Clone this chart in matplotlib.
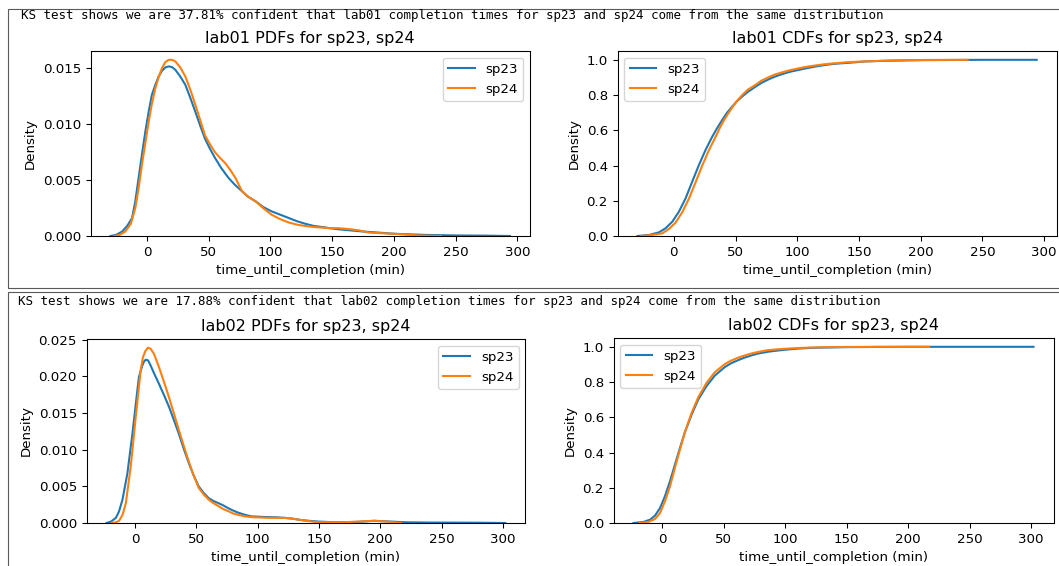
import matplotlib
matplotlib.use("Agg")
import matplotlib.pyplot as plt
from matplotlib.patches import Rectangle

# KDE curves of lab completion times, read per semester
lab01_pdf_x_sp23 = [-29.5, -25, -20, -16, -12, -9.4, -6.7, -4, -1.3, 1.4, 4, 6.8, 9.5, 12.2, 14.9, 17.6, 20.3, 23, 27, 31.1, 35.2, 39.2, 43, 47, 51, 55, 60, 66, 71, 77, 82, 88, 94, 101, 108, 115, 122, 128, 135, 142, 148, 155, 165, 175, 188, 200, 225, 250, 275, 294]
lab01_pdf_y_sp23 = [0.0, 0.0001, 0.0004, 0.0009, 0.0016, 0.0031, 0.0052, 0.0073, 0.0093, 0.0111, 0.0126, 0.0135, 0.01425, 0.01476, 0.01506, 0.01515, 0.01509, 0.01485, 0.01425, 0.01351, 0.01232, 0.0111, 0.0099, 0.0087, 0.0078, 0.0070, 0.0061, 0.0052, 0.0046, 0.0040, 0.0035, 0.0031, 0.0026, 0.0022, 0.0019, 0.0016, 0.0013, 0.0011, 0.0009, 0.0008, 0.0007, 0.0006, 0.0005, 0.0004, 0.0003, 0.0002, 0.0001, 0.00005, 0.00003, 0.0]
lab01_pdf_x_sp24 = [-26.5, -22, -17.5, -13, -9.4, -6.7, -4, -1.3, 1.4, 4, 6.8, 9.5, 12.2, 14.9, 17.6, 20.3, 23, 27, 31.1, 35.2, 39.2, 43, 47, 51, 55, 59, 63.5, 67.5, 71.6, 77, 82, 88, 94, 101, 108, 115, 122, 128, 135, 142, 148, 155, 165, 172, 180, 190, 200, 220, 238]
lab01_pdf_y_sp24 = [0.0, 0.0001, 0.0004, 0.0011, 0.0025, 0.0043, 0.0064, 0.0083, 0.0102, 0.0118, 0.0132, 0.0142, 0.0150, 0.01553, 0.01574, 0.01574, 0.0156, 0.01506, 0.01425, 0.01306, 0.01172, 0.0104, 0.0090, 0.0082, 0.0075, 0.0070, 0.0065, 0.0059, 0.0052, 0.0040, 0.0035, 0.0031, 0.0025, 0.0019, 0.0015, 0.0012, 0.0010, 0.0009, 0.0008, 0.00075, 0.0007, 0.0007, 0.0006, 0.0005, 0.0003, 0.00025, 0.0002, 0.00005, 0.0]

lab01_cdf_x_sp23 = [-29.5, -20, -12, -6.7, -1.3, 4.1, 9.5, 14.9, 20.3, 25.7, 31.1, 35.2, 39.2, 43, 47.3, 51, 55.4, 60, 66.2, 71, 77, 82, 87.8, 94, 101.3, 108, 114.8, 121, 128.4, 135, 141.8, 155.3, 175, 200, 225, 250, 294]
lab01_cdf_y_sp23 = [0.0, 0.006, 0.021, 0.044, 0.081, 0.138, 0.214, 0.309, 0.403, 0.489, 0.564, 0.614, 0.659, 0.699, 0.735, 0.764, 0.792, 0.818, 0.848, 0.869, 0.89, 0.905, 0.919, 0.932, 0.943, 0.953, 0.962, 0.969, 0.976, 0.98, 0.983, 0.991, 0.995, 0.998, 0.999, 1.0, 1.0]
lab01_cdf_x_sp24 = [-26.5, -17.5, -9.4, -4, 1.4, 6.8, 12.2, 17.6, 23, 28.4, 33.8, 37, 40.5, 44, 47.3, 51, 55.4, 60, 66.2, 71, 77, 82, 87.8, 94, 101.3, 108, 114.8, 121, 128.4, 135, 141.8, 155.3, 175, 200, 238]
lab01_cdf_y_sp24 = [0.0, 0.006, 0.015, 0.04, 0.076, 0.135, 0.212, 0.305, 0.4, 0.487, 0.563, 0.61, 0.656, 0.695, 0.73, 0.766, 0.8, 0.831, 0.858, 0.882, 0.902, 0.917, 0.929, 0.941, 0.952, 0.961, 0.968, 0.974, 0.979, 0.983, 0.987, 0.991, 0.996, 0.999, 1.0]

lab02_pdf_x_sp23 = [-23.3, -19.5, -15.6, -13, -10.2, -6.2, -2.1, 1.9, 3.2, 6, 7.3, 8.7, 10.6, 12.7, 15.4, 19.5, 23.5, 27.6, 31.6, 35.7, 39.8, 43.8, 47.8, 51.9, 56, 60, 64, 68.1, 72, 76.2, 80, 84.3, 90, 95, 102, 108.6, 115, 122, 128, 135.6, 142, 149, 160, 170, 182, 195, 208, 220, 240, 260, 280, 302]
lab02_pdf_y_sp23 = [0.0, 0.0002, 0.0007, 0.0016, 0.0032, 0.0068, 0.0122, 0.0181, 0.01993, 0.02151, 0.02201, 0.02228, 0.0222, 0.0215, 0.02047, 0.019, 0.0175, 0.0159, 0.0141, 0.0122, 0.0101, 0.0082, 0.0065, 0.0050, 0.0041, 0.0034, 0.0030, 0.0027, 0.0024, 0.0020, 0.0017, 0.0014, 0.0011, 0.0009, 0.00085, 0.0008, 0.00078, 0.0007, 0.0006, 0.0004, 0.0003, 0.0002, 0.00012, 0.0001, 0.00015, 0.0003, 0.0002, 0.0001, 0.00006, 0.00005, 0.00004, 0.0]
lab02_pdf_x_sp24 = [-18.5, -15.5, -13, -10.2, -7.5, -3.5, 0.6, 4.6, 6.5, 8.7, 10.6, 12.7, 15.4, 19.5, 23.5, 27.6, 31.6, 35.7, 39.8, 43.8, 47.8, 51.9, 56, 60, 64, 68.1, 72, 76.2, 80, 84.3, 90, 95, 102, 108.6, 115, 122, 128, 135.6, 142, 149, 160, 170, 182, 195, 205, 217]
lab02_pdf_y_sp24 = [0.0, 0.0001, 0.0003, 0.0011, 0.0027, 0.0077, 0.0145, 0.02083, 0.02264, 0.02355, 0.02391, 0.02378, 0.0231, 0.02129, 0.0193, 0.0172, 0.0150, 0.0127, 0.0105, 0.0084, 0.0065, 0.0048, 0.0039, 0.0032, 0.0027, 0.0023, 0.0019, 0.0016, 0.0013, 0.0011, 0.0009, 0.0008, 0.00075, 0.0007, 0.0007, 0.0007, 0.0006, 0.0004, 0.00025, 0.0001, 0.0001, 0.0001, 0.0002, 0.0003, 0.0002, 0.0]

lab02_cdf_x_sp23 = [-23.5, -15.4, -10, -6, -1.9, 2.1, 6.2, 10.2, 14.3, 18.3, 23.8, 29.2, 35.9, 42.7, 50.8, 56, 61.6, 67, 72.4, 78, 85.9, 94, 102.1, 111, 121, 133, 148, 170, 200, 250, 302]
lab02_cdf_y_sp23 = [0.0, 0.006, 0.019, 0.042, 0.085, 0.152, 0.237, 0.331, 0.426, 0.515, 0.615, 0.701, 0.777, 0.837, 0.885, 0.907, 0.924, 0.939, 0.951, 0.962, 0.972, 0.979, 0.985, 0.99, 0.994, 0.996, 0.998, 0.999, 1.0, 1.0, 1.0]
lab02_cdf_x_sp24 = [-18.5, -11.4, -6, -1.9, 2.1, 6.2, 10.2, 14.3, 18.3, 23.8, 29.2, 35.9, 42.7, 50.8, 56, 61.6, 67, 72.4, 78, 85.9, 94, 102.1, 111, 121, 133, 148, 180, 217]
lab02_cdf_y_sp24 = [0.0, 0.006, 0.023, 0.057, 0.123, 0.208, 0.313, 0.417, 0.515, 0.625, 0.714, 0.795, 0.856, 0.902, 0.922, 0.938, 0.951, 0.962, 0.971, 0.981, 0.986, 0.99, 0.993, 0.996, 0.998, 0.999, 1.0, 1.0]

semesters = ["sp23", "sp24"]
ks_confidence = {"lab01": 37.81, "lab02": 17.88}

plt.rcParams["font.size"] = 9.6
plt.rcParams["axes.titlesize"] = 11.5
plt.rcParams["lines.linewidth"] = 1.5
plt.rcParams["lines.solid_joinstyle"] = "round"
plt.rcParams["axes.linewidth"] = 0.77
plt.rcParams["xtick.major.size"] = 3.4
plt.rcParams["ytick.major.size"] = 3.4
plt.rcParams["xtick.major.width"] = 0.77
plt.rcParams["ytick.major.width"] = 0.77

W, H = 1059, 566
fig = plt.figure(figsize=(W / 100, H / 100), dpi=100)


def rect(l, t, r, b):
    return [l / W, 1 - b / H, (r - l) / W, (b - t) / H]


# output cell frames
for l, t, r, b in [(7.5, 9, 1070, 288), (7.5, 292, 1070, 580)]:
    fig.add_artist(Rectangle((l / W, 1 - b / H), (r - l) / W, (b - t) / H,
                             transform=fig.transFigure, fill=False,
                             edgecolor="#5a5a5a", linewidth=0.8))


def draw(ax, curves, title, loc, ylim):
    for (xs, ys), name in zip(curves, semesters):
        ax.plot(xs, ys, label=name)
    ax.set_ylim(*ylim)
    ax.set_xticks([0, 50, 100, 150, 200, 250, 300])
    ax.set_title(title)
    ax.set_xlabel("time_until_completion (min)")
    ax.set_ylabel("Density")
    ax.legend(loc=loc)


pdf1 = [(lab01_pdf_x_sp23, lab01_pdf_y_sp23), (lab01_pdf_x_sp24, lab01_pdf_y_sp24)]
cdf1 = [(lab01_cdf_x_sp23, lab01_cdf_y_sp23), (lab01_cdf_x_sp24, lab01_cdf_y_sp24)]
pdf2 = [(lab02_pdf_x_sp23, lab02_pdf_y_sp23), (lab02_pdf_x_sp24, lab02_pdf_y_sp24)]
cdf2 = [(lab02_cdf_x_sp23, lab02_cdf_y_sp23), (lab02_cdf_x_sp24, lab02_cdf_y_sp24)]

ax1 = fig.add_axes(rect(90.5, 51, 530, 236))
draw(ax1, pdf1, "lab01 PDFs for sp23, sp24", "upper right",
     (0, max(lab01_pdf_y_sp24) * 1.05))
ax2 = fig.add_axes(rect(617.5, 51, 1056.7, 236))
draw(ax2, cdf1, "lab01 CDFs for sp23, sp24", "upper left", (0, 1.05))
ax3 = fig.add_axes(rect(86.5, 339, 525.3, 523))
draw(ax3, pdf2, "lab02 PDFs for sp23, sp24", "upper right",
     (0, max(lab02_pdf_y_sp24) * 1.05))
ax4 = fig.add_axes(rect(613.5, 338, 1053.5, 523))
draw(ax4, cdf2, "lab02 CDFs for sp23, sp24", "upper left", (0, 1.05))

for (lab, conf), x, y in zip(ks_confidence.items(), [21, 17.6], [15, 301]):
    fig.text(x / W, 1 - y / H,
             f"KS test shows we are {conf:.2f}% confident that {lab} completion times "
             f"for sp23 and sp24 come from the same distribution",
             family="DejaVu Sans Mono", fontsize=9, va="center", ha="left")

fig.savefig("out.png", dpi=100)
